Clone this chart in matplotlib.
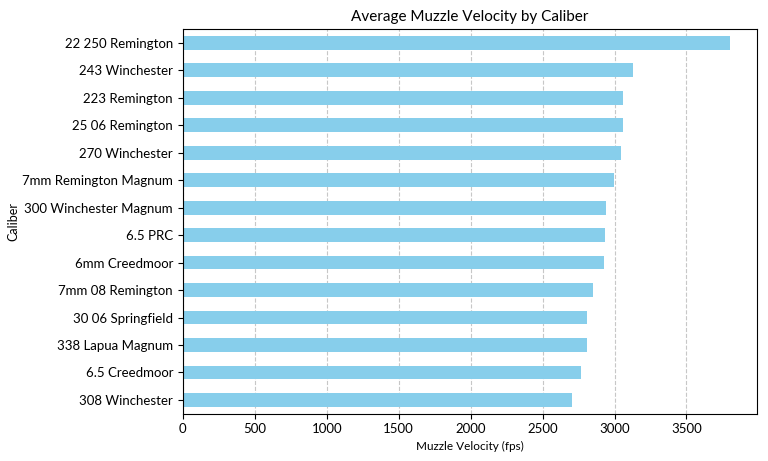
import matplotlib
matplotlib.use("Agg")
import matplotlib.pyplot as plt

plt.rcParams['font.family'] = ['Lato', 'DejaVu Sans']

calibers = [
    "308 Winchester", "6.5 Creedmoor", "338 Lapua Magnum", "30 06 Springfield",
    "7mm 08 Remington", "6mm Creedmoor", "6.5 PRC", "300 Winchester Magnum",
    "7mm Remington Magnum", "270 Winchester", "25 06 Remington", "223 Remington",
    "243 Winchester", "22 250 Remington",
]
velocity = [2704, 2769, 2806, 2812, 2847, 2928, 2933, 2940,
            2993, 3046, 3062, 3062, 3125, 3800]

fig, ax = plt.subplots(figsize=(7.68, 4.61), dpi=100)
plt.subplots_adjust(left=0.238, right=0.9857, top=0.937, bottom=0.1026)

ax.barh(range(len(calibers)), velocity, height=0.5, color="skyblue")
ax.set_yticks(range(len(calibers)))
ax.set_yticklabels(calibers)
ax.set_ylim(-0.5, len(calibers) - 0.5)
ax.set_xlim(0, max(velocity) * 1.05)

ax.set_title("Average Muzzle Velocity by Caliber", fontsize=11)
ax.set_xlabel("Muzzle Velocity (fps)", fontsize=8.5)
ax.set_ylabel("Caliber", fontsize=9, labelpad=2)
ax.tick_params(labelsize=9.5)
ax.grid(axis="x", linestyle="--", alpha=0.7)
ax.set_axisbelow(True)

fig.savefig("out.png", dpi=100)
